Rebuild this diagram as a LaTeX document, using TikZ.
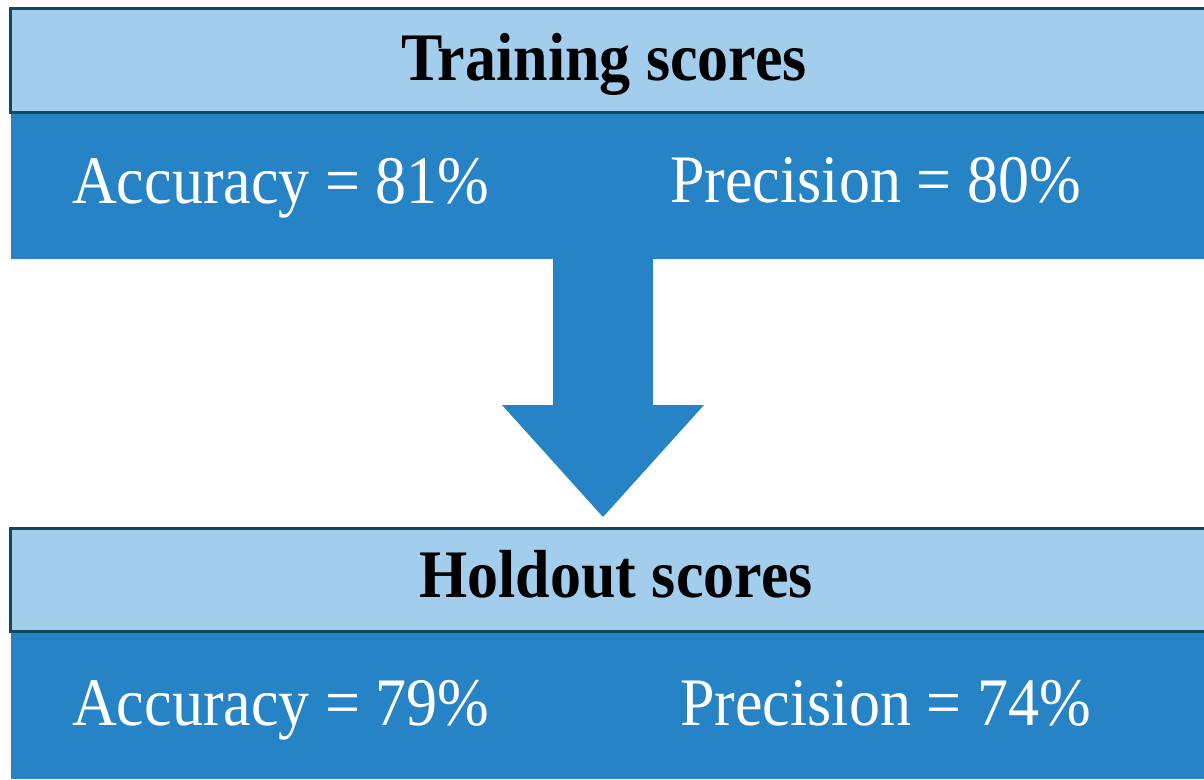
\documentclass[tikz,border=0pt]{standalone}
\usepackage{fontspec}
\setmainfont{Liberation Serif}
\definecolor{headfill}{HTML}{A3CDED}
\definecolor{bandfill}{HTML}{2683C6}
\definecolor{edge}{HTML}{0F4A60}
\newcommand{\narrow}[1]{\scalebox{0.912}[1]{#1}}
\begin{document}
\begin{tikzpicture}[x=1pt,y=-1pt,
  header/.style={fill=headfill,draw=edge,line width=3pt},
  band/.style={fill=bandfill},
  title/.style={inner sep=0pt,anchor=base,font=\fontsize{68}{80}\selectfont\bfseries,text=black},
  score/.style={inner sep=0pt,anchor=base west,font=\fontsize{68}{80}\selectfont,text=white}]
\useasboundingbox (0,0) rectangle (1204,779);
% training block
\fill[band] (11,112) rectangle (1204,259);
\draw[header] (10.5,8) rectangle (1210,112);
\node[title] (ttitle) at (604,80) {\narrow{Training scores}};
\node[score] (tacc) at (72,203) {\narrow{Accuracy = 81\%}};
\node[score] (tprec) at (670,202) {\narrow{Precision = 80\%}};
% downward block arrow
\fill[band] (553,259) -- (653,259) -- (653,405) -- (704,405) -- (603,517)
  -- (502,405) -- (553,405) -- cycle;
% holdout block
\fill[band] (11,631) rectangle (1204,779);
\draw[header] (10.5,528) rectangle (1210,631);
\node[title] (htitle) at (616,597) {\narrow{Holdout scores}};
\node[score] (hacc) at (72,725) {\narrow{Accuracy = 79\%}};
\node[score] (hprec) at (680,725) {\narrow{Precision = 74\%}};
\end{tikzpicture}
\end{document}
